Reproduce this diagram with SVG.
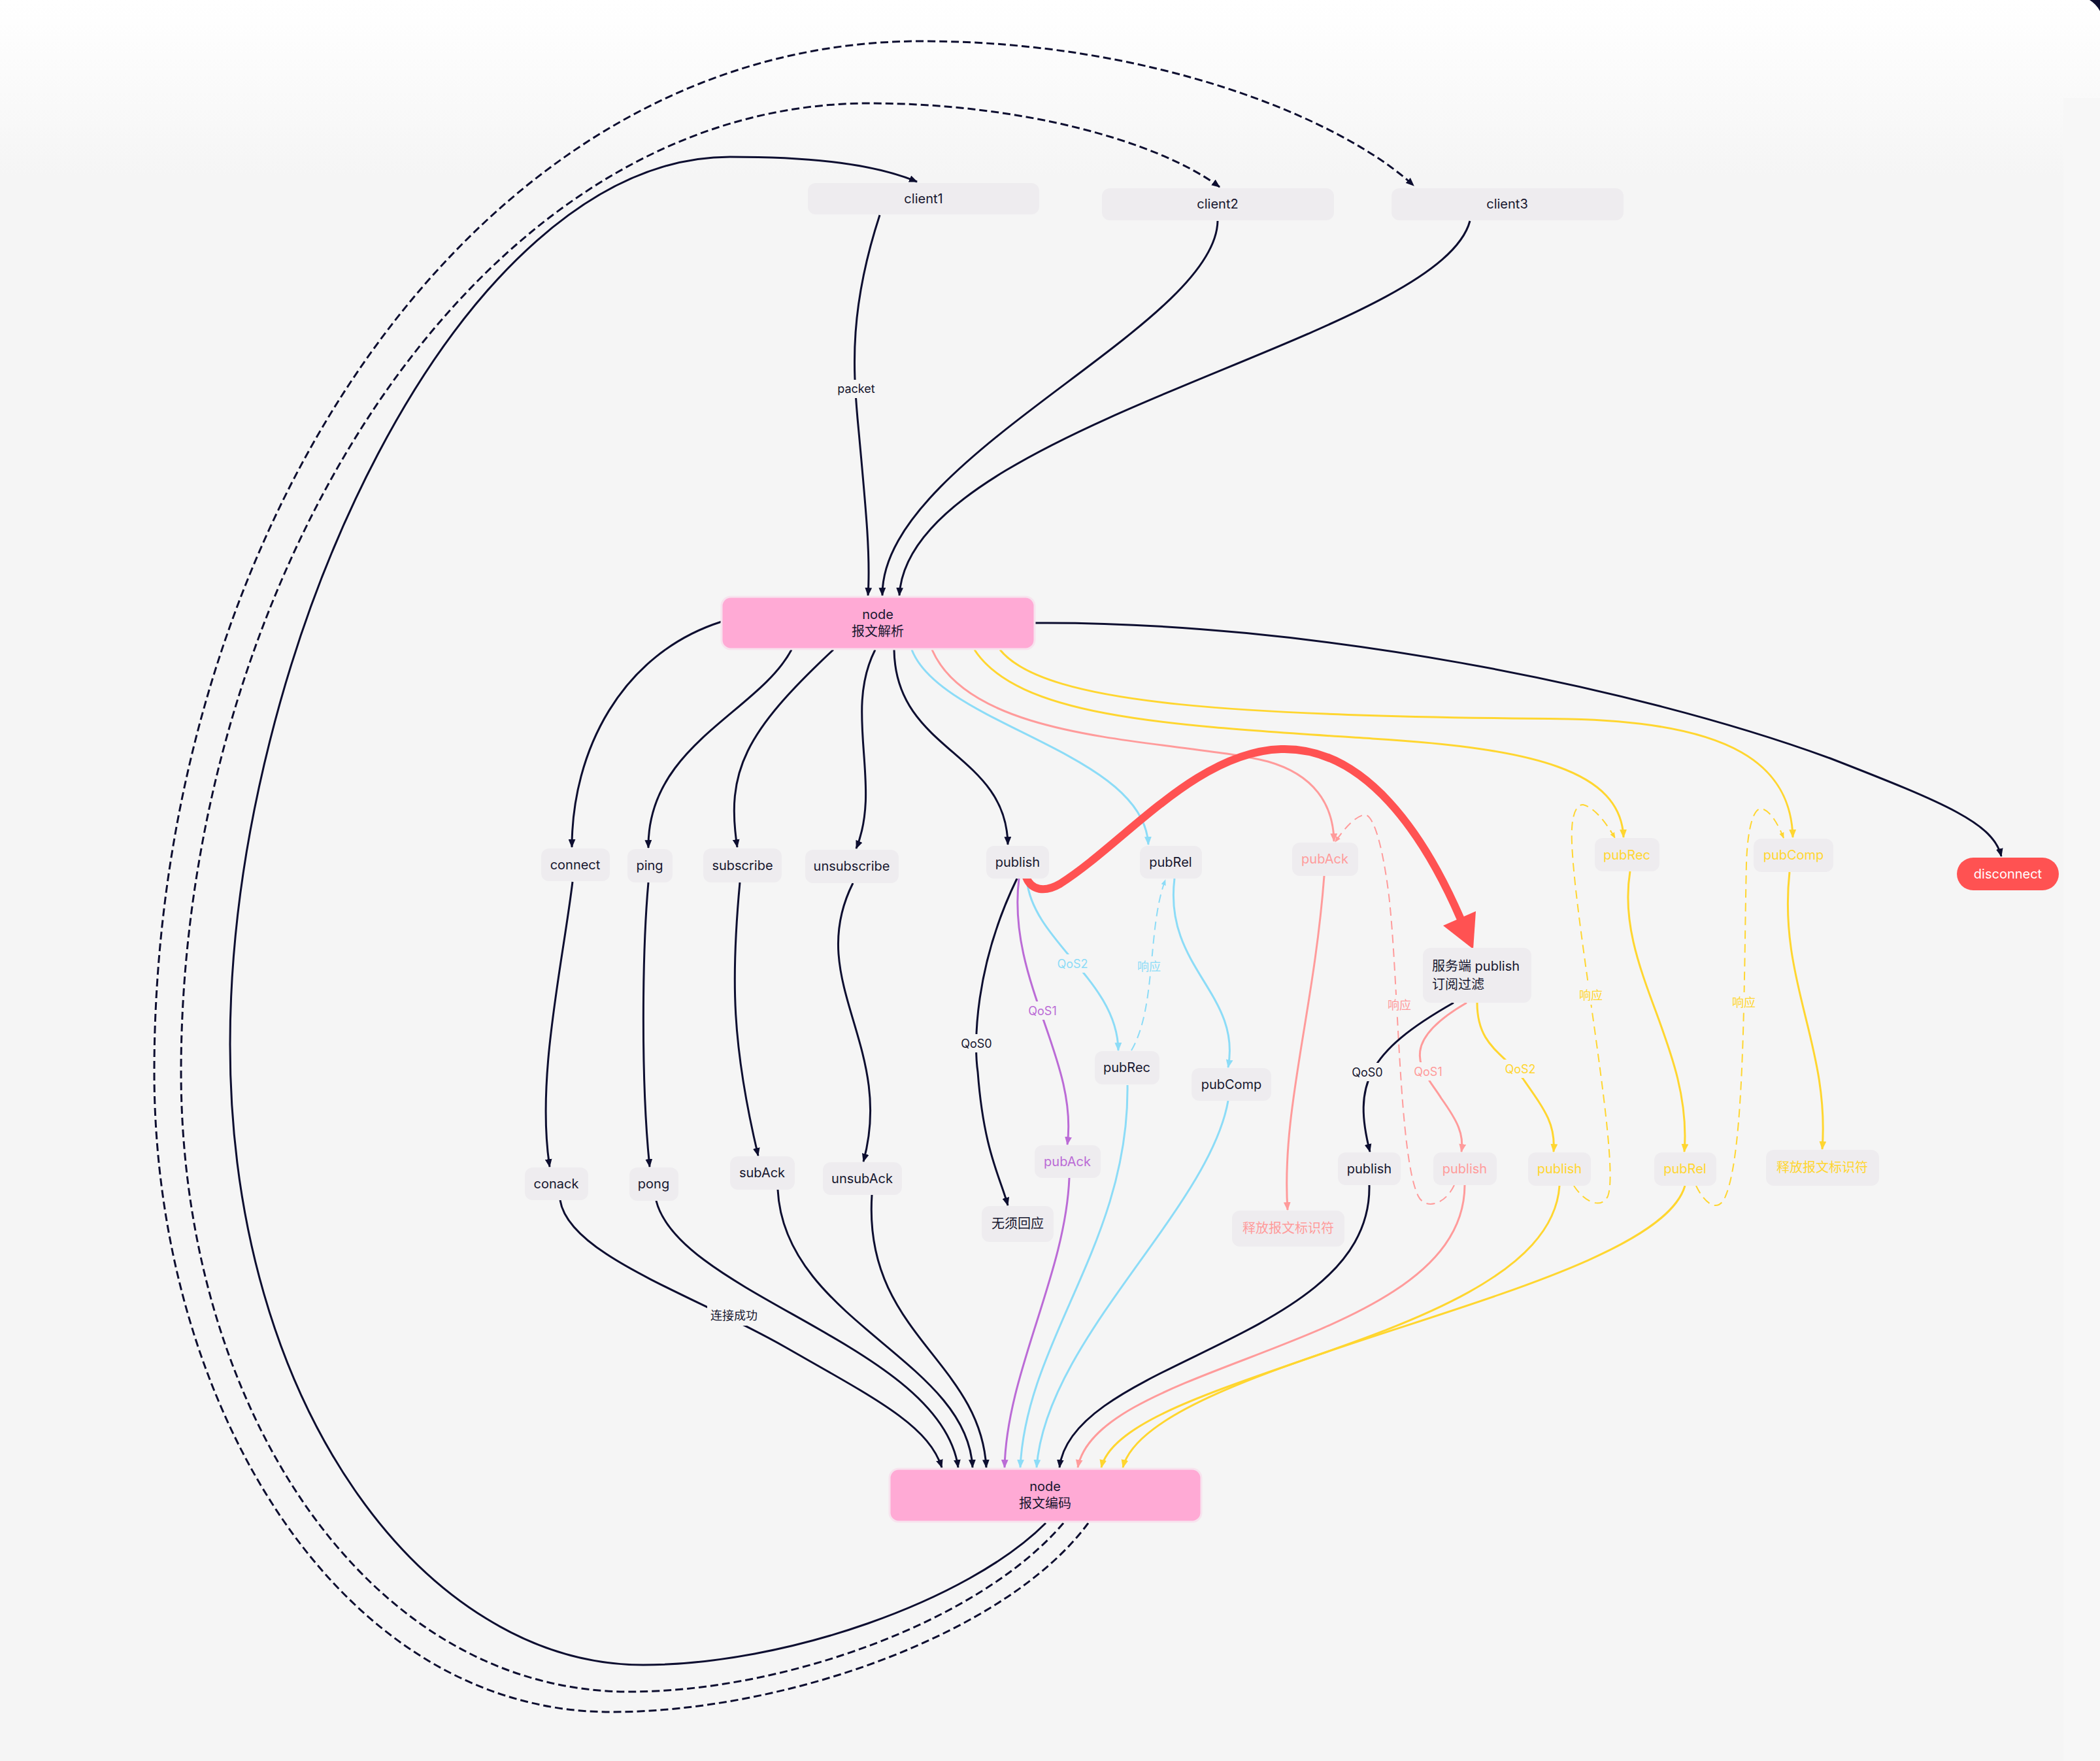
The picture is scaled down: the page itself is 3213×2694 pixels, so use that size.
<svg xmlns="http://www.w3.org/2000/svg" width="3213" height="2694" viewBox="0 0 3213 2694">
<defs>
<linearGradient id="bg" x1="0" y1="0" x2="0" y2="1">
<stop offset="0" stop-color="#ffffff"/>
<stop offset="0.012" stop-color="#fefefe"/>
<stop offset="0.1" stop-color="#f5f5f5"/>
<stop offset="1" stop-color="#f5f5f5"/>
</linearGradient>
<marker id="a-dark" viewBox="0 0 12 10" refX="11" refY="5" markerWidth="13" markerHeight="11" markerUnits="userSpaceOnUse" orient="auto"><path d="M0,0 L12,5 L0,10 z" fill="#0d0e30"/></marker>
<marker id="a-blue" viewBox="0 0 12 10" refX="11" refY="5" markerWidth="13" markerHeight="11" markerUnits="userSpaceOnUse" orient="auto"><path d="M0,0 L12,5 L0,10 z" fill="#8cdcf7"/></marker>
<marker id="a-pink" viewBox="0 0 12 10" refX="11" refY="5" markerWidth="13" markerHeight="11" markerUnits="userSpaceOnUse" orient="auto"><path d="M0,0 L12,5 L0,10 z" fill="#ff9b9b"/></marker>
<marker id="a-yellow" viewBox="0 0 12 10" refX="11" refY="5" markerWidth="13" markerHeight="11" markerUnits="userSpaceOnUse" orient="auto"><path d="M0,0 L12,5 L0,10 z" fill="#ffd630"/></marker>
<marker id="a-purple" viewBox="0 0 12 10" refX="11" refY="5" markerWidth="13" markerHeight="11" markerUnits="userSpaceOnUse" orient="auto"><path d="M0,0 L12,5 L0,10 z" fill="#bb6bd6"/></marker>
<marker id="s-blue" viewBox="0 0 12 10" refX="11" refY="5" markerWidth="9" markerHeight="8" markerUnits="userSpaceOnUse" orient="auto"><path d="M0,0 L12,5 L0,10 z" fill="#8cdcf7"/></marker>
<marker id="s-pink" viewBox="0 0 12 10" refX="11" refY="5" markerWidth="9" markerHeight="8" markerUnits="userSpaceOnUse" orient="auto"><path d="M0,0 L12,5 L0,10 z" fill="#ff9b9b"/></marker>
<marker id="s-yellow" viewBox="0 0 12 10" refX="11" refY="5" markerWidth="9" markerHeight="8" markerUnits="userSpaceOnUse" orient="auto"><path d="M0,0 L12,5 L0,10 z" fill="#ffd630"/></marker>
</defs>
<style>
.node rect{fill:#eeecef;}
.pinkbox rect{fill:#ffaad5;stroke:#f7e3ee;stroke-width:3;}
text{font-family:Inter,"Noto Sans CJK SC",sans-serif;font-size:20px;fill:#16162e;text-anchor:middle;dominant-baseline:central;}
.lbl{font-size:18px;}
.lblbg{fill:#f5f5f5;}
.e{fill:none;stroke-width:3;}
.dk{stroke:#0d0e30;}
.bl{stroke:#8cdcf7;}
.pk{stroke:#ff9b9b;}
.yl{stroke:#ffd630;}
.pu{stroke:#bb6bd6;}
.dash{stroke-dasharray:12 6;}
.thin{stroke-width:2;stroke-dasharray:13 8;}
.tpk{fill:#ff9b9b;}
.tyl{fill:#ffd630;}
.tbl{fill:#8cdcf7;}
.tpu{fill:#bb6bd6;}
</style>
<rect x="0" y="0" width="3213" height="2694" fill="url(#bg)"/>
<rect x="3157" y="150" width="56" height="2544" fill="#f7f7f7"/>
<path d="M3197,0 L3213,0 L3213,17 Q3207,6 3197,0 Z" fill="#0d0e30"/>

<g id="connectors">
<!-- clients to parse -->
<path class="e dk" d="M1346,329 C1300,470 1305,560 1312,640 C1325,780 1332,850 1328,911" marker-end="url(#a-dark)"/>
<path class="e dk" d="M1863,338 C1860,500 1348,700 1350,911" marker-end="url(#a-dark)"/>
<path class="e dk" d="M2249,338 C2200,520 1390,650 1376,911" marker-end="url(#a-dark)"/>
<!-- loops from encode to clients -->
<path class="e dk" d="M1600,2330 C1480,2450 1200,2547 984,2547 C650,2547 352,2150 352,1598 C352,1000 700,240 1117,240 C1250,240 1340,252 1403,278" marker-end="url(#a-dark)"/>
<path class="e dk dash" d="M1627,2330 C1500,2480 1200,2588 963,2588 C560,2588 277,2150 277,1640 C277,900 720,158 1330,158 C1560,158 1770,215 1866,286" marker-end="url(#a-dark)"/>
<path class="e dk dash" d="M1665,2330 C1540,2500 1200,2619 935,2619 C520,2619 236,2150 236,1640 C236,820 720,63 1410,63 C1760,63 2050,180 2163,284" marker-end="url(#a-dark)"/>
<!-- parse to first row -->
<path class="e dk" d="M1104,951 C950,1000 875,1150 875,1296" marker-end="url(#a-dark)"/>
<path class="e dk" d="M1211,994 C1160,1090 990,1140 992,1297" marker-end="url(#a-dark)"/>
<path class="e dk" d="M1275,994 C1140,1120 1110,1180 1128,1296" marker-end="url(#a-dark)"/>
<path class="e dk" d="M1339,994 C1290,1090 1350,1200 1310,1298" marker-end="url(#a-dark)"/>
<path class="e dk" d="M1368,994 C1370,1150 1540,1150 1542,1292" marker-end="url(#a-dark)"/>
<path class="e bl" d="M1395,994 C1440,1110 1750,1150 1757,1292" marker-end="url(#a-blue)"/>
<path class="e pk" d="M1426,994 C1490,1140 1800,1130 1940,1165 C2010,1185 2040,1230 2041,1287" marker-end="url(#a-pink)"/>
<path class="e yl" d="M1491,994 C1560,1100 1800,1110 2100,1130 C2350,1145 2480,1180 2484,1281" marker-end="url(#a-yellow)"/>
<path class="e yl" d="M1530,994 C1600,1080 1900,1095 2400,1100 C2650,1105 2740,1170 2743,1281" marker-end="url(#a-yellow)"/>
<path class="e dk" d="M1584,953 C2000,950 2500,1050 2800,1160 C2980,1230 3050,1260 3062,1310" marker-end="url(#a-dark)"/>
<!-- first row to second row -->
<path class="e dk" d="M876,1349 C860,1480 820,1650 841,1785" marker-end="url(#a-dark)"/>
<path class="e dk" d="M992,1350 C983,1450 980,1650 994,1785" marker-end="url(#a-dark)"/>
<path class="e dk" d="M1132,1350 C1118,1500 1120,1600 1160,1768" marker-end="url(#a-dark)"/>
<path class="e dk" d="M1305,1351 C1230,1500 1370,1600 1321,1777" marker-end="url(#a-dark)"/>
<path class="e dk" d="M1556,1344 C1490,1480 1490,1600 1496,1640 C1505,1760 1530,1800 1542,1844" marker-end="url(#a-dark)"/>
<path class="e pu" d="M1559,1344 C1540,1500 1650,1620 1633,1751" marker-end="url(#a-purple)"/>
<path class="e bl" d="M1571,1346 C1580,1440 1710,1500 1711,1607" marker-end="url(#a-blue)"/>
<path class="e bl thin" d="M1731,1607 C1770,1540 1755,1420 1783,1346" marker-end="url(#s-blue)"/>
<path class="e bl" d="M1797,1344 C1780,1480 1900,1520 1879,1633" marker-end="url(#a-blue)"/>
<path class="e pk" d="M2026,1340 C2010,1550 1960,1700 1970,1851" marker-end="url(#a-pink)"/>
<path class="e pk thin" d="M2225,1813 C2210,1845 2180,1850 2170,1830 C2140,1770 2140,1500 2125,1370 C2115,1290 2100,1240 2085,1247 C2070,1252 2055,1270 2043,1288" marker-end="url(#s-pink)"/>
<path class="e yl thin" d="M2408,1814 C2425,1840 2450,1850 2460,1830 C2480,1780 2410,1420 2405,1290 C2403,1245 2412,1231 2422,1231 C2440,1235 2458,1260 2471,1282" marker-end="url(#s-yellow)"/>
<path class="e yl thin" d="M2595,1814 C2610,1845 2630,1855 2640,1830 C2670,1760 2668,1500 2672,1320 C2674,1262 2684,1236 2695,1237 C2710,1240 2722,1265 2729,1282" marker-end="url(#s-yellow)"/>
<path class="e yl" d="M2494,1333 C2470,1480 2590,1600 2577,1762" marker-end="url(#a-yellow)"/>
<path class="e yl" d="M2738,1334 C2720,1500 2800,1600 2788,1758" marker-end="url(#a-yellow)"/>
<!-- server publish fan-out -->
<path class="e dk" d="M2224,1534 C2090,1610 2070,1660 2096,1762" marker-end="url(#a-dark)"/>
<path class="e pk" d="M2244,1534 C2130,1600 2180,1640 2205,1680 C2230,1715 2240,1735 2236,1762" marker-end="url(#a-pink)"/>
<path class="e yl" d="M2260,1534 C2260,1600 2300,1610 2330,1650 C2365,1700 2380,1720 2377,1762" marker-end="url(#a-yellow)"/>
<!-- to encode -->
<path class="e dk" d="M857,1836 C870,1920 1060,1980 1200,2060 C1340,2140 1420,2180 1441,2245" marker-end="url(#a-dark)"/>
<path class="e dk" d="M1004,1837 C1040,1980 1440,2060 1466,2245" marker-end="url(#a-dark)"/>
<path class="e dk" d="M1190,1820 C1200,2020 1480,2080 1488,2245" marker-end="url(#a-dark)"/>
<path class="e dk" d="M1334,1828 C1320,2040 1500,2080 1509,2245" marker-end="url(#a-dark)"/>
<path class="e pu" d="M1636,1802 C1630,1950 1540,2100 1537,2245" marker-end="url(#a-purple)"/>
<path class="e bl" d="M1725,1660 C1728,1900 1570,2050 1561,2245" marker-end="url(#a-blue)"/>
<path class="e bl" d="M1879,1684 C1850,1850 1600,2050 1586,2245" marker-end="url(#a-blue)"/>
<path class="e dk" d="M2095,1813 C2100,2050 1640,2080 1621,2245" marker-end="url(#a-dark)"/>
<path class="e pk" d="M2241,1813 C2240,2060 1680,2080 1649,2245" marker-end="url(#a-pink)"/>
<path class="e yl" d="M2386,1814 C2370,2050 1720,2100 1685,2245" marker-end="url(#a-yellow)"/>
<path class="e yl" d="M2578,1814 C2530,1980 1760,2080 1718,2245" marker-end="url(#a-yellow)"/>
<!-- big red arrow -->
<path fill="none" stroke="#ff5252" stroke-width="12" stroke-linecap="round" d="M1570,1342 C1578,1362 1598,1366 1622,1352 C1720,1290 1830,1150 1960,1146 C2090,1142 2180,1280 2234,1404"/>
<polygon points="2254,1452 2208,1416 2258,1394" fill="#ff5252"/>
<!-- edge labels -->
<rect class="lblbg" x="1280" y="581" width="60" height="28"/>
<text class="lbl" x="1310" y="594">packet</text>
<rect class="lblbg" x="1082" y="1998" width="82" height="30"/>
<text class="lbl" x="1123" y="2012">连接成功</text>
<rect class="lblbg" x="1468" y="1582" width="54" height="28"/>
<text class="lbl" x="1494" y="1596">QoS0</text>
<rect class="lblbg" x="1569" y="1532" width="54" height="28"/>
<text class="lbl tpu" x="1595" y="1546">QoS1</text>
<rect class="lblbg" x="1614" y="1460" width="54" height="28"/>
<text class="lbl tbl" x="1641" y="1474">QoS2</text>
<rect class="lblbg" x="1738" y="1463" width="42" height="30"/>
<text class="lbl tbl" x="1758" y="1478">响应</text>
<rect class="lblbg" x="2120" y="1522" width="42" height="30"/>
<text class="lbl tpk" x="2141" y="1537">响应</text>
<rect class="lblbg" x="2065" y="1626" width="54" height="28"/>
<text class="lbl" x="2092" y="1640">QoS0</text>
<rect class="lblbg" x="2158" y="1625" width="54" height="28"/>
<text class="lbl tpk" x="2185" y="1639">QoS1</text>
<rect class="lblbg" x="2299" y="1621" width="54" height="28"/>
<text class="lbl tyl" x="2326" y="1635">QoS2</text>
<rect class="lblbg" x="2413" y="1507" width="42" height="30"/>
<text class="lbl tyl" x="2434" y="1522">响应</text>
<rect class="lblbg" x="2647" y="1518" width="42" height="30"/>
<text class="lbl tyl" x="2668" y="1533">响应</text>
</g>

<g id="client1" class="node"><rect x="1236" y="280" width="354" height="48" rx="12"/><text x="1413" y="304">client1</text></g>
<g id="client2" class="node"><rect x="1686" y="288" width="355" height="49" rx="12"/><text x="1863" y="312">client2</text></g>
<g id="client3" class="node"><rect x="2129" y="288" width="355" height="49" rx="12"/><text x="2306" y="312">client3</text></g>
<g id="node-parse" class="pinkbox"><rect x="1104" y="913" width="479" height="80" rx="14"/><text x="1343" y="940">node</text><text x="1343" y="966">报文解析</text></g>
<g id="node-encode" class="pinkbox"><rect x="1361" y="2247" width="477" height="81" rx="14"/><text x="1599" y="2274">node</text><text x="1599" y="2300">报文编码</text></g>
<g id="connect" class="node"><rect x="828" y="1298" width="105" height="50" rx="12"/><text x="880" y="1323">connect</text></g>
<g id="ping" class="node"><rect x="960" y="1299" width="69" height="51" rx="12"/><text x="994" y="1324">ping</text></g>
<g id="subscribe" class="node"><rect x="1076" y="1298" width="120" height="52" rx="12"/><text x="1136" y="1324">subscribe</text></g>
<g id="unsubscribe" class="node"><rect x="1232" y="1300" width="143" height="51" rx="12"/><text x="1303" y="1325">unsubscribe</text></g>
<g id="publish" class="node"><rect x="1509" y="1294" width="96" height="50" rx="12"/><text x="1557" y="1319">publish</text></g>
<g id="pubRel" class="node"><rect x="1744" y="1294" width="95" height="50" rx="12"/><text x="1791" y="1319">pubRel</text></g>
<g id="pubAck-qos1" class="node"><rect x="1977" y="1289" width="101" height="51" rx="12"/><text class="tpk" x="2027" y="1314">pubAck</text></g>
<g id="pubRec-qos2" class="node"><rect x="2440" y="1282" width="99" height="51" rx="12"/><text class="tyl" x="2489" y="1308">pubRec</text></g>
<g id="pubComp-qos2" class="node"><rect x="2683" y="1283" width="122" height="51" rx="12"/><text class="tyl" x="2744" y="1308">pubComp</text></g>
<g id="disconnect"><rect x="2994" y="1312" width="156" height="50" rx="25" fill="#ff5252"/><text x="3072" y="1337" fill="#ffffff" style="fill:#ffffff">disconnect</text></g>
<g id="server-publish" class="node"><rect x="2177" y="1450" width="166" height="84" rx="12"/><text x="2191" y="1478" style="text-anchor:start">服务端 publish</text><text x="2191" y="1506" style="text-anchor:start">订阅过滤</text></g>
<g id="pubRec" class="node"><rect x="1675" y="1608" width="99" height="51" rx="12"/><text x="1724" y="1633">pubRec</text></g>
<g id="pubComp" class="node"><rect x="1823" y="1634" width="122" height="50" rx="12"/><text x="1884" y="1659">pubComp</text></g>
<g id="pubAck" class="node"><rect x="1583" y="1752" width="101" height="50" rx="12"/><text class="tpu" x="1633" y="1777">pubAck</text></g>
<g id="no-reply" class="node"><rect x="1502" y="1845" width="110" height="55" rx="12"/><text x="1557" y="1872">无须回应</text></g>
<g id="release-qos1" class="node"><rect x="1885" y="1852" width="172" height="55" rx="12"/><text class="tpk" x="1971" y="1879">释放报文标识符</text></g>
<g id="conack" class="node"><rect x="803" y="1786" width="97" height="50" rx="12"/><text x="851" y="1811">conack</text></g>
<g id="pong" class="node"><rect x="963" y="1786" width="75" height="51" rx="12"/><text x="1000" y="1811">pong</text></g>
<g id="subAck" class="node"><rect x="1117" y="1769" width="99" height="51" rx="12"/><text x="1166" y="1794">subAck</text></g>
<g id="unsubAck" class="node"><rect x="1259" y="1778" width="121" height="50" rx="12"/><text x="1319" y="1803">unsubAck</text></g>
<g id="publish-qos0" class="node"><rect x="2047" y="1763" width="96" height="50" rx="12"/><text x="2095" y="1788">publish</text></g>
<g id="publish-qos1" class="node"><rect x="2193" y="1763" width="97" height="50" rx="12"/><text class="tpk" x="2241" y="1788">publish</text></g>
<g id="publish-qos2" class="node"><rect x="2338" y="1763" width="96" height="51" rx="12"/><text class="tyl" x="2386" y="1788">publish</text></g>
<g id="pubRel-qos2" class="node"><rect x="2531" y="1763" width="95" height="51" rx="12"/><text class="tyl" x="2578" y="1788">pubRel</text></g>
<g id="release-qos2" class="node"><rect x="2702" y="1759" width="173" height="55" rx="12"/><text class="tyl" x="2788" y="1786">释放报文标识符</text></g>
</svg>
